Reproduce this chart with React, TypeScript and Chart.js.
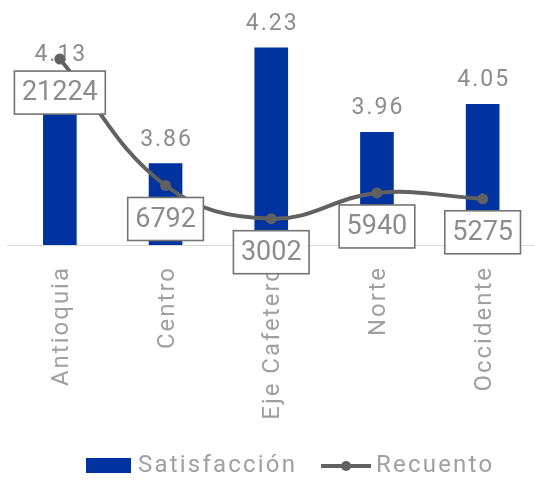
import React, { useEffect, useRef } from "react";
import { Chart, registerables } from "chart.js";

Chart.register(...registerables);

const categories = ["Antioquia", "Centro", "Eje Cafetero", "Norte", "Occidente"];
const satisfaccion = [4.13, 3.86, 4.23, 3.96, 4.05];
const recuento = [21224, 6792, 3002, 5940, 5275];
const seriesNames = ["Satisfacción", "Recuento"];

const FONT = "Roboto, 'Noto Sans', sans-serif";
const BAR_COLOR = "#0033a0";
const LINE_COLOR = "#616161";
const TEXT_COLOR = "#8c8c8c";
const TICK_COLOR = "#a0a0a0";

const labelsPlugin = {
  id: "customLabels",
  beforeLayout(chart: any) {
    chart.ctx.letterSpacing = "2px";
  },
  beforeDraw(chart: any) {
    chart.ctx.letterSpacing = "2px";
  },
  afterDatasetDraw(chart: any, args: any) {
    if (args.index !== 0) return;
    const ctx = chart.ctx;
    ctx.save();
    ctx.font = `23px ${FONT}`;
    ctx.letterSpacing = "2px";
    ctx.fillStyle = TEXT_COLOR;
    ctx.textAlign = "center";
    ctx.textBaseline = "alphabetic";
    args.meta.data.forEach((bar: any, i: number) => {
      ctx.fillText(satisfaccion[i].toFixed(2), bar.x + 1, bar.y - 18);
    });
    ctx.restore();
  },
  afterDraw(chart: any) {
    const ctx = chart.ctx;
    const meta = chart.getDatasetMeta(1);
    ctx.save();
    ctx.font = `27px ${FONT}`;
    ctx.letterSpacing = "0px";
    ctx.textAlign = "center";
    ctx.textBaseline = "middle";
    meta.data.forEach((pt: any, i: number) => {
      const txt = String(recuento[i]);
      const w = ctx.measureText(txt).width + 15;
      const h = 43;
      const x = pt.x - w / 2;
      const y = pt.y + 12;
      ctx.fillStyle = "#ffffff";
      ctx.fillRect(x, y, w, h);
      ctx.strokeStyle = "#747474";
      ctx.lineWidth = 1.6;
      ctx.strokeRect(x, y, w, h);
      ctx.fillStyle = TEXT_COLOR;
      ctx.fillText(txt, pt.x, y + h / 2 + 1);
    });
    ctx.restore();

    // legend
    ctx.save();
    ctx.font = `24px ${FONT}`;
    ctx.letterSpacing = "2.2px";
    ctx.textBaseline = "middle";
    ctx.textAlign = "left";
    const cy = 466;
    let x = 86;
    ctx.fillStyle = BAR_COLOR;
    ctx.fillRect(x, cy - 8, 45, 15);
    x += 45 + 7;
    ctx.fillStyle = TICK_COLOR;
    ctx.fillText(seriesNames[0], x, cy);
    x += ctx.measureText(seriesNames[0]).width + 24;
    ctx.strokeStyle = LINE_COLOR;
    ctx.lineWidth = 4;
    ctx.beginPath();
    ctx.moveTo(x, cy);
    ctx.lineTo(x + 50, cy);
    ctx.stroke();
    ctx.fillStyle = LINE_COLOR;
    ctx.beginPath();
    ctx.arc(x + 25, cy, 5, 0, Math.PI * 2);
    ctx.fill();
    x += 55;
    ctx.fillStyle = TICK_COLOR;
    ctx.fillText(seriesNames[1], x, cy);
    ctx.restore();
  },
};

export default function App() {
  const ref = useRef<HTMLCanvasElement>(null);
  useEffect(() => {
    if (!ref.current) return;
    const chart = new Chart(ref.current, {
      type: "bar",
      data: {
        labels: categories,
        datasets: [
          {
            type: "bar",
            label: seriesNames[0],
            data: satisfaccion,
            backgroundColor: BAR_COLOR,
            barThickness: 33,
            yAxisID: "y",
            order: 2,
          },
          {
            type: "line",
            label: seriesNames[1],
            data: recuento,
            borderColor: LINE_COLOR,
            backgroundColor: LINE_COLOR,
            borderWidth: 4,
            pointRadius: 5.5,
            pointBackgroundColor: LINE_COLOR,
            pointBorderWidth: 0,
            tension: 0.4,
            yAxisID: "y2",
            order: 1,
            clip: false,
          } as any,
        ],
      },
      options: {
        animation: false,
        responsive: false,
        layout: { padding: { top: 26, left: 7, right: 3, bottom: 0 } },
        plugins: { legend: { display: false }, tooltip: { enabled: false } },
        scales: {
          x: {
            grid: { display: false, drawTicks: false },
            border: { display: true, color: "#d9d9d9", width: 1 },
            ticks: {
              autoSkip: false,
              minRotation: 90,
              maxRotation: 90,
              padding: 21,
              labelOffset: 2,
              color: TICK_COLOR,
              font: { family: FONT, size: 24 },
            },
            afterFit: (scale: any) => {
              scale.height = 236;
            },
          },
          y: { display: false, min: 3.6, max: 4.3 },
          y2: { display: false, min: 0, max: 25000, position: "right" },
        },
      },
      plugins: [labelsPlugin],
    });
    return () => chart.destroy();
  }, []);
  return (
    <div style={{ position: "fixed", left: 0, top: 0, width: 535, height: 481, overflow: "hidden", background: "#fff" }}>
      <canvas ref={ref} width={541} height={481} style={{ display: "block" }} />
    </div>
  );
}
